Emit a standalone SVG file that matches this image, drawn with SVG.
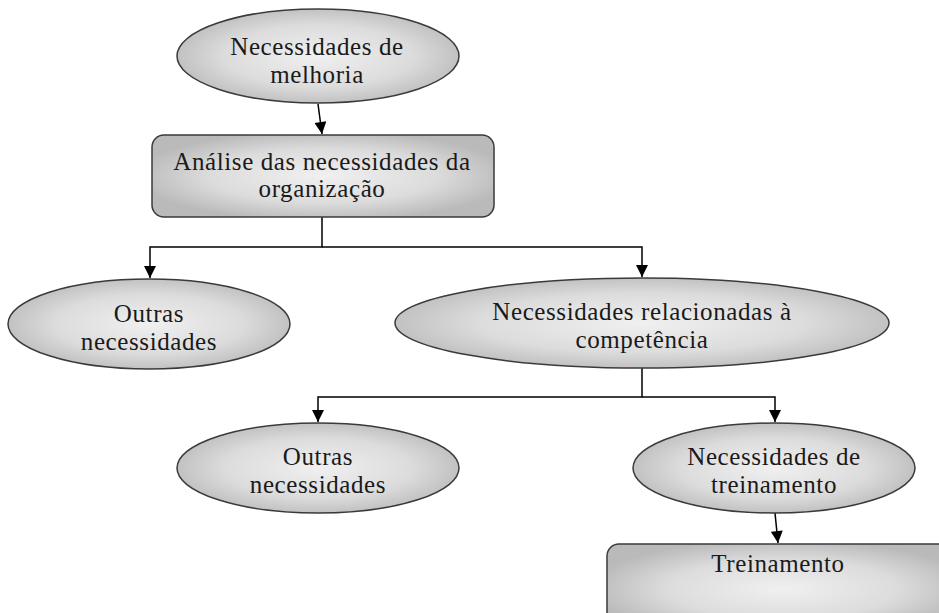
<svg xmlns="http://www.w3.org/2000/svg" width="939" height="613" viewBox="0 0 939 613">
<style>
.node{stroke:#3a3a3a;stroke-width:1.5;}
.ell{fill:url(#g);}
.box{fill:url(#g);}
.t{font-family:"Liberation Serif","Times New Roman",serif;font-size:25px;fill:#1a1a1a;text-anchor:middle;letter-spacing:0.6px;}
.c{fill:none;stroke:#000;stroke-width:1.5;}
</style>
<defs>
<radialGradient id="g" cx="50%" cy="50%" r="55%">
<stop offset="0" stop-color="#f0f0f0"/>
<stop offset="0.6" stop-color="#dcdcdc"/>
<stop offset="1" stop-color="#bababa"/>
</radialGradient>
<marker id="ah" viewBox="0 0 10 10" refX="10" refY="5" markerWidth="13" markerHeight="12" markerUnits="userSpaceOnUse" orient="auto">
<path d="M0,0 L10,5 L0,10 z" fill="#000"/>
</marker>
</defs>
<g id="connectors">
<path class="c" d="M318,104 L322,134" marker-end="url(#ah)"/>
<path class="c" d="M322,217 V247 H150 V278" marker-end="url(#ah)"/>
<path class="c" d="M322,247 H642 V277" marker-end="url(#ah)"/>
<path class="c" d="M642,368 V397 H318 V422" marker-end="url(#ah)"/>
<path class="c" d="M642,397 H775 V422" marker-end="url(#ah)"/>
<path class="c" d="M775,513 L778,543" marker-end="url(#ah)"/>
</g>
<g id="n1">
<ellipse class="node ell" cx="318" cy="56" rx="141" ry="47"/>
<text class="t" x="317" y="55">Necessidades de</text>
<text class="t" x="317" y="83">melhoria</text>
</g>
<g id="n2">
<rect class="node box" x="152" y="135" width="342" height="82" rx="12"/>
<text class="t" x="322" y="170">Análise das necessidades da</text>
<text class="t" x="322" y="197">organização</text>
</g>
<g id="n3">
<ellipse class="node ell" cx="149" cy="324" rx="141" ry="45"/>
<text class="t" x="149" y="322">Outras</text>
<text class="t" x="149" y="350">necessidades</text>
</g>
<g id="n4">
<ellipse class="node ell" cx="642" cy="323" rx="247" ry="45"/>
<text class="t" x="642" y="320">Necessidades relacionadas à</text>
<text class="t" x="642" y="348">competência</text>
</g>
<g id="n5">
<ellipse class="node ell" cx="318" cy="468" rx="141" ry="45"/>
<text class="t" x="318" y="465">Outras</text>
<text class="t" x="318" y="493">necessidades</text>
</g>
<g id="n6">
<ellipse class="node ell" cx="774" cy="468" rx="141" ry="45"/>
<text class="t" x="774" y="465">Necessidades de</text>
<text class="t" x="774" y="493">treinamento</text>
</g>
<g id="n7">
<rect class="node box" x="607" y="544" width="350" height="90" rx="12"/>
<text class="t" x="778" y="572">Treinamento</text>
</g>
</svg>
